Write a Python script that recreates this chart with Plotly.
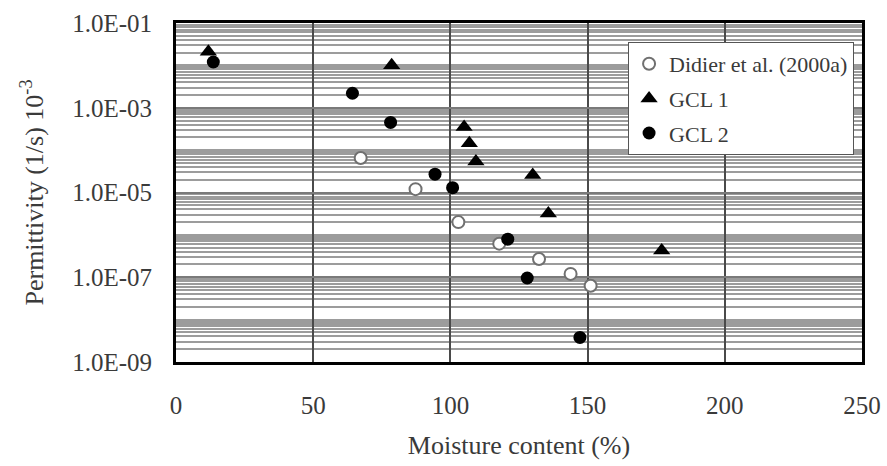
import plotly.graph_objects as go

# ---- data ----
didier_x = [67.3, 87.3, 102.9, 117.8, 132.3, 143.8, 151.1]
didier_y = [6.5e-5, 1.2e-5, 2.0e-6, 6.2e-7, 2.7e-7, 1.2e-7, 6.3e-8]

gcl1_x = [11.8, 78.6, 105.0, 106.9, 109.3, 130.0, 135.7, 177.0]
gcl1_y = [2.1e-2, 1.0e-2, 3.5e-4, 1.45e-4, 5.4e-5, 2.6e-5, 3.2e-6, 4.3e-7]

gcl2_x = [13.6, 64.3, 78.2, 94.4, 100.8, 120.9, 128.0, 147.2]
gcl2_y = [1.2e-2, 2.2e-3, 4.5e-4, 2.7e-5, 1.3e-5, 7.9e-7, 9.6e-8, 3.8e-9]

y_tick_vals = [1e-1, 1e-3, 1e-5, 1e-7, 1e-9]
y_tick_text = ["1.0E-01", "1.0E-03", "1.0E-05", "1.0E-07", "1.0E-09"]
x_tick_vals = [0, 50, 100, 150, 200, 250]

FONT = "Liberation Serif, Times New Roman, serif"
TXT = "#3a3a3a"

# minor log grid (k * 10^n)
minor_vals = [k * 10.0 ** e for e in range(-9, -1) for k in range(1, 10)] + [1e-1]

fig = go.Figure()
fig.add_trace(go.Scatter(
    x=didier_x, y=didier_y, mode="markers", name="Didier et al. (2000a)",
    legendgroup="a",
    marker=dict(symbol="circle", size=12, color="white",
                line=dict(color="#707070", width=2))))
fig.add_trace(go.Scatter(
    x=gcl1_x, y=gcl1_y, mode="markers", name="GCL 1", legendgroup="b",
    marker=dict(symbol="triangle-up", size=15, color="black",
                line=dict(color="black", width=0))))
fig.add_trace(go.Scatter(
    x=gcl2_x, y=gcl2_y, mode="markers", name="GCL 2", legendgroup="c",
    marker=dict(symbol="circle", size=13, color="black",
                line=dict(color="black", width=0))))

fig.update_layout(
    width=887, height=466,
    margin=dict(l=176, r=25, t=23, b=104, autoexpand=False),
    paper_bgcolor="white", plot_bgcolor="white",
    font=dict(family=FONT, color=TXT, size=25),
    showlegend=True,
    legend=dict(
        x=0.659, y=0.944, xanchor="left", yanchor="top",
        bgcolor="white", bordercolor="#555", borderwidth=1,
        font=dict(family=FONT, size=22, color=TXT),
        tracegroupgap=3, traceorder="grouped", itemwidth=30,
    ),
    xaxis=dict(
        range=[0, 250], tickvals=x_tick_vals, ticks="",
        showgrid=True, gridcolor="#4a4a4a", gridwidth=1.5,
        zeroline=False, showline=True, linecolor="black", linewidth=3,
        mirror=True, ticklabelstandoff=19,
        tickfont=dict(family=FONT, size=25, color=TXT),
        title=dict(text="Moisture content (%)", standoff=18,
                   font=dict(family=FONT, size=26, color=TXT)),
    ),
    yaxis=dict(
        type="log", range=[-9, -1], tickvals=y_tick_vals, ticktext=y_tick_text,
        ticks="", showgrid=True, gridcolor="#7a7a7a", gridwidth=1.8,
        zeroline=False, showline=True, linecolor="black", linewidth=3,
        mirror=True, ticklabelstandoff=16,
        tickfont=dict(family=FONT, size=25, color=TXT),
        minor=dict(tickvals=minor_vals, showgrid=True, gridcolor="#9c9c9c",
                   gridwidth=1.5, ticks=""),
        title=dict(text="Permittivity (1/s) 10<sup>-3</sup>", standoff=22,
                   font=dict(family=FONT, size=26, color=TXT)),
    ),
)

fig.write_html("out.html")
